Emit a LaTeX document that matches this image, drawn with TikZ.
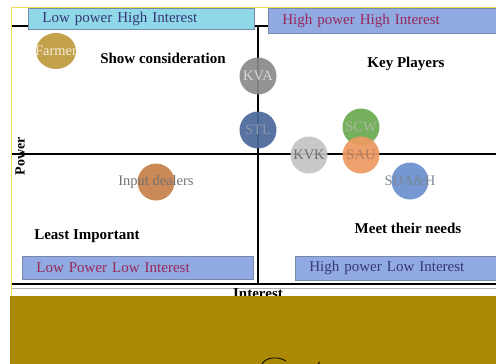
\documentclass[tikz,border=0pt]{standalone}
\usepackage{fontspec}
\setmainfont{Liberation Serif}
\usetikzlibrary{shapes.geometric}
\definecolor{bandgold}{RGB}{172,137,4}
\definecolor{framey}{RGB}{236,220,90}
\definecolor{cyanbox}{RGB}{143,216,232}
\definecolor{bluebox}{RGB}{146,170,226}
\definecolor{boxedge}{RGB}{120,135,170}
\definecolor{inkmaroon}{RGB}{150,40,90}
\definecolor{inkblue}{RGB}{55,55,120}
\newcommand{\tag}[1]{\makebox[0pt]{#1}}
\begin{document}
\begin{tikzpicture}[x=1pt,y=-1pt,
  quad/.style={draw=boxedge,line width=0.8pt,anchor=north west,inner xsep=14pt,
    inner ysep=0pt,align=left,font=\fontsize{15}{15}\selectfont},
  actor/.style={circle,minimum size=37pt,inner sep=0pt,opacity=0.92,text opacity=1,
    font=\fontsize{14.5}{14.5}\selectfont},
  zone/.style={font=\bfseries\fontsize{15}{15}\selectfont},
  axis/.style={black,line width=2.6pt}]
  \useasboundingbox (0,0) rectangle (496,364);
  \fill[white] (0,0) rectangle (496,364);
  % frame and grid
  \draw[framey,line width=1pt] (11,296) -- (11,7) -- (496,7);
  \draw[axis] (12,26) -- (496,26);
  \draw[axis] (12,154) -- (496,154);
  \draw[axis] (12,284) -- (496,284);
  \draw[gray!60,line width=0.6pt] (12,288) -- (496,288);
  \draw[axis] (258,26) -- (258,284);
  % quadrant labels
  \node[quad,fill=cyanbox,text=inkblue,text width=198pt,minimum height=21pt] (lphi) at (28,8) {Low power High Interest};
  \node[quad,fill=bluebox,text=inkmaroon,text width=202pt,minimum height=25pt] (hphi) at (268,8) {High power High Interest};
  \node[quad,fill=bluebox,text=inkmaroon,text width=203pt,minimum height=23pt] (lpli) at (22,256) {Low Power Low Interest};
  \node[quad,fill=bluebox,text=inkblue,text width=175pt,minimum height=24pt] (hpli) at (295,256) {High power Low Interest};
  % zone names
  \node[zone] (show) at (163,58) {Show consideration};
  \node[zone] (key) at (406,64) {Key Players};
  \node[zone] (least) at (87,236) {Least Important};
  \node[zone] (meet) at (408,228) {Meet their needs};
  \node[zone,rotate=90,font=\bfseries\fontsize{14}{14}\selectfont] (power) at (20,156) {Power};
  \node[zone] (interest) at (258,294) {Interest};
  % stakeholders
  \node[actor,ellipse,fill={rgb,255:red,192;green,154;blue,60},text={rgb,255:red,245;green,238;blue,220},
    minimum width=40pt,minimum height=36pt] (farmer) at (56,51) {\tag{Farmer}};
  \node[actor,fill={rgb,255:red,138;green,138;blue,138},text={rgb,255:red,215;green,215;blue,215}] (kva) at (258,76) {\tag{KVA}};
  \node[actor,fill={rgb,255:red,74;green,104;blue,154},text={rgb,255:red,140;green,150;blue,170}] (stl) at (258,130) {\tag{STL}};
  \node[actor,fill={rgb,255:red,196;green,196;blue,196},text={rgb,255:red,110;green,110;blue,110}] (kvk) at (309,155) {\tag{KVK}};
  \node[actor,fill={rgb,255:red,106;green,170;blue,80},text={rgb,255:red,170;green,185;blue,160}] (scw) at (361,127) {\tag{SCW}};
  \node[actor,fill={rgb,255:red,237;green,154;blue,96},text={rgb,255:red,175;green,125;blue,100}] (sau) at (361,155) {\tag{SAU}};
  \node[actor,fill={rgb,255:red,106;green,144;blue,208},text={rgb,255:red,125;green,135;blue,150}] (sdah) at (410,181) {\tag{SDA\&H}};
  \node[actor,fill={rgb,255:red,200;green,128;blue,74},text={rgb,255:red,115;green,115;blue,115}] (input) at (156,182) {\tag{Input dealers}};
  % lower band
  \fill[bandgold] (10,296) rectangle (496,364);
  \draw[black,line width=0.8pt] (262,364) .. controls (266,357) and (278,356) .. (286,361);
  \draw[black,line width=0.8pt] (318,364) -- (320,362);
\end{tikzpicture}
\end{document}
